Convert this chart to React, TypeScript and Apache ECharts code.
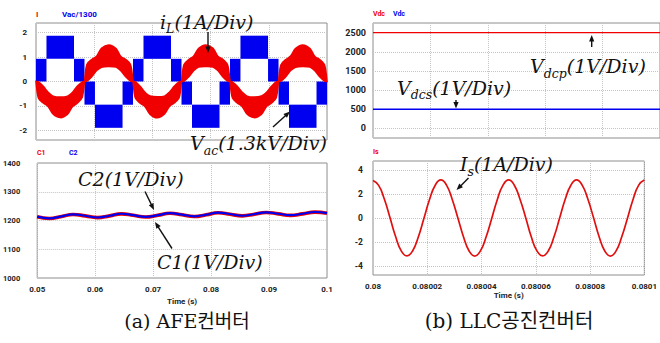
import React, { useEffect, useRef } from 'react';
import * as echarts from 'echarts';

// ---------- (a) AFE converter, top: inductor current band & Vac/1300 blocks ----------
const iTime = [
  0.05, 0.05042, 0.05125, 0.05208, 0.05292, 0.05417, 0.05542, 0.05625, 0.05708, 0.05792,
  0.05833, 0.05875, 0.05958, 0.06042, 0.06125, 0.0625, 0.06375, 0.06458, 0.06542, 0.06625,
  0.06667, 0.06708, 0.06792, 0.06875, 0.06958, 0.07083, 0.07208, 0.07292, 0.07375, 0.07458,
  0.075, 0.07542, 0.07625, 0.07708, 0.07792, 0.07917, 0.08042, 0.08125, 0.08208, 0.08292,
  0.08333, 0.08375, 0.08458, 0.08542, 0.08625, 0.0875, 0.08875, 0.08958, 0.09042, 0.09125,
  0.09167, 0.09208, 0.09292, 0.09375, 0.09458, 0.09583, 0.09708, 0.09792, 0.09875, 0.09958,
  0.1,
];
const iOuter = [
  0, -0.68, -0.88, -1.02, -1.33, -1.48, -1.34, -1.03, -0.89, -0.66,
  0, 0.7, 0.9, 1.04, 1.36, 1.5, 1.35, 1.02, 0.9, 0.68,
  0, -0.68, -0.89, -1.03, -1.34, -1.49, -1.33, -1.02, -0.88, -0.67,
  0, 0.69, 0.9, 1.03, 1.35, 1.5, 1.36, 1.03, 0.91, 0.68,
  0, -0.67, -0.88, -1.02, -1.33, -1.48, -1.34, -1.03, -0.89, -0.68,
  0, 0.68, 0.9, 1.04, 1.35, 1.5, 1.35, 1.02, 0.9, 0.68,
  0,
];
const iInner = [
  0, -0.02, -0.2, -0.44, -0.6, -0.64, -0.6, -0.45, -0.2, -0.03,
  0, 0.02, 0.2, 0.45, 0.59, 0.62, 0.59, 0.44, 0.2, 0.02,
  0, -0.02, -0.21, -0.45, -0.6, -0.63, -0.6, -0.44, -0.2, -0.02,
  0, 0.02, 0.2, 0.44, 0.59, 0.62, 0.6, 0.45, 0.2, 0.02,
  0, -0.03, -0.2, -0.44, -0.6, -0.64, -0.59, -0.45, -0.21, -0.02,
  0, 0.02, 0.2, 0.45, 0.59, 0.62, 0.59, 0.44, 0.2, 0.02,
  0,
];
const vacBlockStart = [0.05, 0.0518, 0.05653, 0.05833, 0.06013, 0.06487, 0.06667, 0.06847, 0.0732, 0.075, 0.0768, 0.08153, 0.08333, 0.08513, 0.08987, 0.09167, 0.09347, 0.0982];
const vacBlockEnd = [0.0518, 0.05653, 0.05833, 0.06013, 0.06487, 0.06667, 0.06847, 0.0732, 0.075, 0.0768, 0.08153, 0.08333, 0.08513, 0.08987, 0.09167, 0.09347, 0.0982, 0.1];
const vacBlockLow = [0, 0.93, 0, -0.95, -1.9, -0.95, 0, 0.93, 0, -0.95, -1.9, -0.95, 0, 0.93, 0, -0.95, -1.9, -0.95];
const vacBlockHigh = [0.93, 1.88, 0.93, 0, -0.95, 0, 0.93, 1.88, 0.93, 0, -0.95, 0, 0.93, 1.88, 0.93, 0, -0.95, 0];
const afeTopTicks = [-2, -1, 0, 1, 2];

// ---------- (a) AFE converter, bottom: C1 / C2 ----------
const cTime = [0.05, 0.0521, 0.0542, 0.0562, 0.0583, 0.0604, 0.0625, 0.0645, 0.0666, 0.0687, 0.0708, 0.0729, 0.075, 0.0771, 0.0792, 0.0812, 0.0833, 0.0854, 0.0875, 0.0895, 0.0916, 0.0937, 0.0958, 0.0979, 0.1];
const c1Val = [1213, 1207, 1214, 1221, 1216, 1210, 1216, 1223, 1218, 1212, 1218, 1225, 1220, 1214, 1220, 1227, 1222, 1216, 1222, 1228, 1223, 1218, 1223, 1229, 1225];
const c2Val = [1213.5, 1207.5, 1214.5, 1221.5, 1216.5, 1210.5, 1216.5, 1223.5, 1218.5, 1212.5, 1218.5, 1225.5, 1220.5, 1214.5, 1220.5, 1227.5, 1222.5, 1216.5, 1222.5, 1228.5, 1223.5, 1218.5, 1223.5, 1229.5, 1225.5];

// ---------- (b) LLC converter, top: Vdc ----------
const vdcTime = [0, 100]; // microseconds after 0.08 s
const vdcpVal = [2500, 2500];
const vdcsVal = [500, 500];
const vdcTicks = [0, 500, 1000, 1500, 2000, 2500];

// ---------- (b) LLC converter, bottom: Is ----------
const isTime = [
  0, 2.08, 4.17, 6.25, 8.33, 10.42, 12.5, 14.58, 16.67, 18.75, 20.83, 22.92,
  25, 27.08, 29.17, 31.25, 33.33, 35.42, 37.5, 39.58, 41.67, 43.75, 45.83, 47.92,
  50, 52.08, 54.17, 56.25, 58.33, 60.42, 62.5, 64.58, 66.67, 68.75, 70.83, 72.92,
  75, 77.08, 79.17, 81.25, 83.33, 85.42, 87.5, 89.58, 91.67, 93.75, 95.83, 97.92,
  100,
];
const isVal = [
  3.12, 2.72, 1.58, 0.04, -1.55, -2.74, -3.16, -2.75, -1.6, -0.05, 1.54, 2.73,
  3.17, 2.74, 1.57, 0.03, -1.56, -2.75, -3.17, -2.74, -1.58, -0.04, 1.55, 2.74,
  3.17, 2.73, 1.56, 0.05, -1.57, -2.74, -3.16, -2.75, -1.59, -0.03, 1.56, 2.73,
  3.17, 2.74, 1.58, 0.04, -1.56, -2.75, -3.17, -2.74, -1.57, -0.04, 1.55, 2.74,
  3.16,
];
const isTicks = [-4, -2, 0, 2, 4];
const isTimeLabels = ['0.08', '0.08002', '0.08004', '0.08006', '0.08008', '0.0801'];

const captions = ['(a) AFE컨버터', '(b) LLC공진컨버터'];

// ---------- styles ----------
const SANS = 'Roboto';
const MATH = 'DejaVu Serif';
const CAPTION_FONT = 'DejaVu Serif, Noto Sans CJK KR';
const RED = '#f00000';
const BLUE = '#0000f0';
const GRIDLINE = { show: true, lineStyle: { color: '#c4c4c4', type: 'dotted' as const, width: 1 } };

function mathLabel(x: number, y: number, tokens: [string, string][]) {
  const text = tokens.map(([k, s]) => `{${k}|${s}}`).join('');
  return {
    type: 'text',
    x,
    y,
    z: 100,
    style: {
      text,
      align: 'left',
      verticalAlign: 'top',
      rich: {
        m: { fontSize: 19, fontStyle: 'italic', fontFamily: MATH, lineHeight: 19, verticalAlign: 'top', fill: '#111' },
        s: { fontSize: 12.5, fontStyle: 'italic', fontFamily: MATH, lineHeight: 23, verticalAlign: 'bottom', fill: '#111' },
      },
    },
  };
}

function arrow(x1: number, y1: number, x2: number, y2: number) {
  const a = Math.atan2(y2 - y1, x2 - x1);
  const L = 6.5;
  const w = 2.6;
  const c = Math.cos(a);
  const s = Math.sin(a);
  return [
    { type: 'line', z: 100, shape: { x1, y1, x2: x2 - c * 4, y2: y2 - s * 4 }, style: { stroke: '#111', lineWidth: 1.4 } },
    {
      type: 'polygon',
      z: 100,
      shape: { points: [[x2, y2], [x2 - L * c + w * s, y2 - L * s - w * c], [x2 - L * c - w * s, y2 - L * s + w * c]] },
      style: { fill: '#111' },
    },
  ];
}

function seriesLabel(x: number, y: number, text: string, color: string, size: number) {
  return {
    type: 'text',
    x,
    y,
    style: { text, fill: color, fontSize: size, fontWeight: 'bold', fontFamily: SANS, align: 'left', verticalAlign: 'middle' },
  };
}

const plain = (v: number) => String(v);

export default function App() {
  const ref = useRef<HTMLDivElement>(null);

  useEffect(() => {
    if (!ref.current) return;
    const chart = echarts.init(ref.current, undefined, { renderer: 'svg' });

    const lab = { color: '#222', fontWeight: 'bold' as const, fontFamily: SANS, fontSize: 8, formatter: plain };
    const gridBase = { show: true, borderColor: '#8e8e8e', borderWidth: 1, backgroundColor: 'transparent' };
    const nameStyle = { color: '#222', fontWeight: 'bold', fontFamily: SANS, fontSize: 8 };

    const option: any = {
      animation: false,
      backgroundColor: '#ffffff',
      textStyle: { fontFamily: SANS },
      grid: [
        { ...gridBase, left: 36, top: 23, width: 291, height: 117 },
        { ...gridBase, left: 36, top: 163, width: 291, height: 115 },
        { ...gridBase, left: 373, top: 23, width: 289, height: 115 },
        { ...gridBase, left: 373, top: 161, width: 289, height: 114 },
      ],
      xAxis: [
        {
          gridIndex: 0, type: 'value', min: 0.05, max: 0.1, interval: 0.01,
          axisLine: { show: false }, axisTick: { show: false }, axisLabel: { show: false }, splitLine: GRIDLINE,
        },
        {
          gridIndex: 1, type: 'value', min: 0.05, max: 0.1, interval: 0.01,
          axisLine: { show: false }, axisTick: { show: false },
          axisLabel: { ...lab, margin: 7 }, splitLine: GRIDLINE,
          name: 'Time (s)', nameLocation: 'middle', nameGap: 19, nameTextStyle: nameStyle,
        },
        {
          gridIndex: 2, type: 'value', min: 0, max: 100, interval: 20,
          axisLine: { show: false }, axisTick: { show: false }, axisLabel: { show: false }, splitLine: GRIDLINE,
        },
        {
          gridIndex: 3, type: 'value', min: 0, max: 100, interval: 20,
          axisLine: { show: false }, axisTick: { show: false },
          axisLabel: { ...lab, margin: 7, formatter: (v: number) => isTimeLabels[Math.round(v / 20)] ?? '' },
          splitLine: GRIDLINE,
          name: 'Time (s)', nameLocation: 'middle', nameGap: 16, nameTextStyle: nameStyle,
        },
      ],
      yAxis: [
        {
          gridIndex: 0, type: 'value', min: -2.4, max: 2.4,
          axisLine: { show: false }, axisTick: { show: false, customValues: afeTopTicks },
          axisLabel: { ...lab, margin: 9, customValues: afeTopTicks }, splitLine: GRIDLINE,
        },
        {
          gridIndex: 1, type: 'value', min: 1000, max: 1400, interval: 100,
          axisLine: { show: false }, axisTick: { show: false },
          axisLabel: { ...lab, fontSize: 7.5, margin: 17 }, splitLine: GRIDLINE,
        },
        {
          gridIndex: 2, type: 'value', min: -250, max: 2750,
          axisLine: { show: false }, axisTick: { show: false, customValues: vdcTicks },
          axisLabel: { ...lab, fontSize: 9, margin: 7, customValues: vdcTicks }, splitLine: GRIDLINE,
        },
        {
          gridIndex: 3, type: 'value', min: -4.75, max: 4.75,
          axisLine: { show: false }, axisTick: { show: false, customValues: isTicks },
          axisLabel: { ...lab, fontSize: 8.5, margin: 10, customValues: isTicks }, splitLine: GRIDLINE,
        },
      ],
      series: [
        {
          type: 'custom',
          name: 'Vac/1300',
          xAxisIndex: 0,
          yAxisIndex: 0,
          z: 2,
          encode: { x: [0, 1], y: [2, 3] },
          data: vacBlockStart.map((s, i) => [s, vacBlockEnd[i], vacBlockLow[i], vacBlockHigh[i]]),
          renderItem: (_p: any, api: any) => {
            const a = api.coord([api.value(0), api.value(3)]);
            const b = api.coord([api.value(1), api.value(2)]);
            return {
              type: 'rect',
              shape: { x: a[0], y: a[1], width: b[0] - a[0], height: b[1] - a[1] },
              style: { fill: BLUE },
            };
          },
        },
        {
          type: 'custom',
          name: 'I',
          xAxisIndex: 0,
          yAxisIndex: 0,
          z: 3,
          data: [[iTime[0], iOuter[0]]],
          renderItem: (_p: any, api: any) => {
            const pts: number[][] = [];
            for (let i = 0; i < iTime.length; i++) pts.push(api.coord([iTime[i], iOuter[i]]));
            for (let i = iTime.length - 1; i >= 0; i--) pts.push(api.coord([iTime[i], iInner[i]]));
            return {
              type: 'polygon',
              shape: { points: pts, smooth: 0.3 },
              style: { fill: RED, stroke: RED, lineWidth: 1.6 },
            };
          },
        },
        {
          type: 'line', name: 'C1', xAxisIndex: 1, yAxisIndex: 1, smooth: 0.5, showSymbol: false,
          data: cTime.map((t, i) => [t, c1Val[i]]),
          lineStyle: { color: RED, width: 3.6 }, itemStyle: { color: RED },
        },
        {
          type: 'line', name: 'C2', xAxisIndex: 1, yAxisIndex: 1, smooth: 0.5, showSymbol: false,
          data: cTime.map((t, i) => [t, c2Val[i]]),
          lineStyle: { color: BLUE, width: 2.2 }, itemStyle: { color: BLUE },
        },
        {
          type: 'line', name: 'Vdcp', xAxisIndex: 2, yAxisIndex: 2, showSymbol: false,
          data: vdcTime.map((t, i) => [t, vdcpVal[i]]),
          lineStyle: { color: RED, width: 1.4 }, itemStyle: { color: RED },
        },
        {
          type: 'line', name: 'Vdcs', xAxisIndex: 2, yAxisIndex: 2, showSymbol: false,
          data: vdcTime.map((t, i) => [t, vdcsVal[i]]),
          lineStyle: { color: BLUE, width: 1.4 }, itemStyle: { color: BLUE },
        },
        {
          type: 'line', name: 'Is', xAxisIndex: 3, yAxisIndex: 3, smooth: 0.5, showSymbol: false,
          data: isTime.map((t, i) => [t, isVal[i]]),
          lineStyle: { color: '#e01010', width: 1.7 }, itemStyle: { color: '#e01010' },
        },
      ],
      graphic: [
        seriesLabel(36, 14, 'I', RED, 8),
        seriesLabel(62, 14, 'Vac/1300', BLUE, 8),
        seriesLabel(37, 153, 'C1', RED, 7),
        seriesLabel(69, 153, 'C2', BLUE, 7),
        seriesLabel(373, 14, 'Vdc', RED, 7),
        seriesLabel(393, 14, 'Vdc', BLUE, 7),
        seriesLabel(373, 152, 'Is', RED, 7),

        mathLabel(160, 12, [['m', 'i'], ['s', 'L'], ['m', '(1A/Div)']]),
        ...arrow(208, 32, 208, 53),
        mathLabel(190, 133.5, [['m', 'V'], ['s', 'ac'], ['m', '(1.3kV/Div)']]),
        ...arrow(273, 127, 290, 111.5),
        mathLabel(78, 169, [['m', 'C2(1V/Div)']]),
        ...arrow(145, 191.5, 154, 210),
        mathLabel(157, 252, [['m', 'C1(1V/Div)']]),
        ...arrow(172, 248.5, 155, 222),
        mathLabel(530, 56.5, [['m', 'V'], ['s', 'dcp'], ['m', '(1V/Div)']]),
        ...arrow(591.7, 47, 591.7, 35),
        mathLabel(397, 78, [['m', 'V'], ['s', 'dcs'], ['m', '(1V/Div)']]),
        ...arrow(456, 100, 456, 108.5),
        mathLabel(460, 154.5, [['m', 'I'], ['s', 's'], ['m', '(1A/Div)']]),
        ...arrow(468.5, 178, 456.5, 190),

        {
          type: 'text', x: 187, y: 321,
          style: { text: captions[0], fill: '#111', fontSize: 19, fontFamily: CAPTION_FONT, align: 'center', verticalAlign: 'middle' },
        },
        {
          type: 'text', x: 509, y: 321,
          style: { text: captions[1], fill: '#111', fontSize: 20, fontFamily: CAPTION_FONT, align: 'center', verticalAlign: 'middle' },
        },
      ],
    };

    chart.setOption(option);
    return () => chart.dispose();
  }, []);

  return <div ref={ref} style={{ position: 'absolute', left: 0, top: 0, width: 660, height: 343, background: '#fff' }} />;
}
